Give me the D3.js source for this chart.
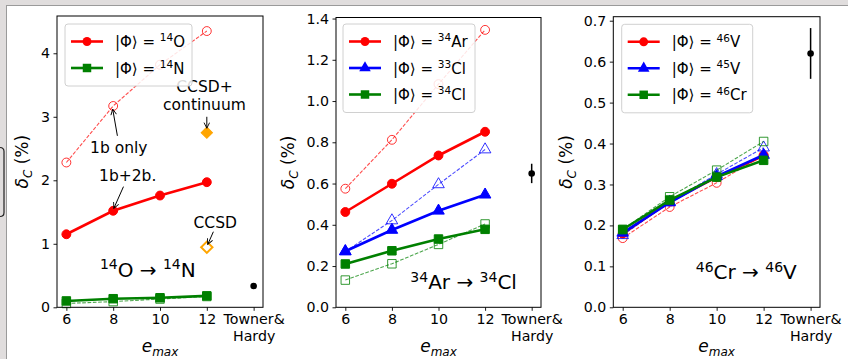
<!DOCTYPE html>
<html><head><meta charset="utf-8">
<script src="https://cdnjs.cloudflare.com/ajax/libs/d3/7.8.5/d3.min.js"></script>
<style>html,body{margin:0;padding:0;background:#fff;}svg{display:block;font-family:"DejaVu Sans",sans-serif;}</style>
</head><body><div id="chart"></div>
<script>
// ---------------- DATA ----------------
const emaxLabels = ["6", "8", "10", "12"];
const thLabelLines = ["Towner&", "Hardy"];

// Panel 1: 14O -> 14N
const p1_O14_full = [1.15, 1.52, 1.76, 1.97];
const p1_O14_1b   = [2.28, 3.17, 3.82, 4.35];
const p1_N14_full = [0.10, 0.135, 0.15, 0.18];
const p1_N14_1b   = [0.06, 0.09, 0.13, 0.17];
const p1_ccsdContinuum = 2.75;
const p1_ccsd = 0.945;
const p1_TownerHardy = [0.335, 0.02];
const p1_yTicks = [0, 1, 2, 3, 4];

// Panel 2: 34Ar -> 34Cl
const p2_Ar34_full = [0.462, 0.599, 0.736, 0.851];
const p2_Ar34_1b   = [0.575, 0.812, 1.082, 1.345];
const p2_Cl33_full = [0.272, 0.375, 0.468, 0.546];
const p2_Cl33_1b   = [0.27, 0.421, 0.596, 0.765];
const p2_Cl34_full = [0.21, 0.274, 0.331, 0.378];
const p2_Cl34_1b   = [0.132, 0.211, 0.305, 0.404];
const p2_TownerHardy = [0.649, 0.047];
const p2_yTicks = [0, 0.2, 0.4, 0.6, 0.8, 1.0, 1.2, 1.4];

// Panel 3: 46Cr -> 46V
const p3_V46_full  = [0.18, 0.258, 0.318, 0.37];
const p3_V46_1b    = [0.169, 0.245, 0.304, 0.372];
const p3_V45_full  = [0.182, 0.256, 0.32, 0.372];
const p3_V45_1b    = [0.176, 0.258, 0.325, 0.39];
const p3_Cr46_full = [0.19, 0.262, 0.318, 0.359];
const p3_Cr46_1b   = [0.19, 0.27, 0.335, 0.405];
const p3_TownerHardy = [0.62, 0.062];
const p3_yTicks = [0, 0.1, 0.2, 0.3, 0.4, 0.5, 0.6, 0.7];

// ---------------- DRAW ----------------
const W = 848, H = 359;
const FONT = '"DejaVu Sans", sans-serif';
const TICKFS = 14.2;
const svg = d3.select("#chart").append("svg").attr("width", W).attr("height", H);

svg.append("rect").attr("width", W).attr("height", H).attr("fill", "#e0dddd");
svg.append("rect").attr("x", 6.5).attr("y", 5.5).attr("width", W).attr("height", H).attr("fill", "#fff").attr("stroke", "#9a9a9a");
svg.append("path").attr("d", "M-4,147.5 L0,147.5 Q4,147.5 4,151.5 L4,212.5 Q4,216.5 0,216.5 L-4,216.5")
  .attr("fill", "none").attr("stroke", "#222").attr("stroke-width", 1.2);

const defs = svg.append("defs");
defs.append("marker").attr("id", "arrowhead").attr("viewBox", "0 0 10 10")
  .attr("refX", 9).attr("refY", 5).attr("markerWidth", 7).attr("markerHeight", 7)
  .attr("markerUnits", "userSpaceOnUse").attr("orient", "auto")
  .append("path").attr("d", "M1,1 L9,5 L1,9").attr("fill", "none").attr("stroke", "#000").attr("stroke-width", 1.3);

const symbolOf = {circle: d3.symbolCircle, square: d3.symbolSquare, triangle: d3.symbolTriangle};
const symSize = {circle: 62, square: 72, triangle: 58};

function superText(sel, parts, baseSize) {
  let raised = false;
  parts.forEach(([t, sup]) => {
    const ts = sel.append("tspan").text(t);
    if (sup && !raised) { ts.attr("dy", -baseSize * 0.38).attr("font-size", baseSize * 0.7); raised = true; }
    else if (!sup && raised) { ts.attr("dy", baseSize * 0.38); raised = false; }
    else if (sup) ts.attr("font-size", baseSize * 0.7);
  });
}

function drawPanel(cfg) {
  const g = svg.append("g");
  const x = d3.scaleLinear().domain([-0.2, 4.2]).range([cfg.left, cfg.right]);
  const y = d3.scaleLinear().domain([0, cfg.yMax]).range([cfg.bottom, cfg.top]);

  const ya = d3.axisLeft(y).tickValues(cfg.yTicks).tickFormat(cfg.yFmt).tickSize(3.5).tickPadding(3.5);
  const yg = g.append("g").attr("transform", `translate(${cfg.left},0)`).call(ya);
  const xa = d3.axisBottom(x).tickValues([0, 1, 2, 3, 4])
    .tickFormat(i => i < 4 ? emaxLabels[i] : "").tickSize(3.5).tickPadding(3.5);
  const xg = g.append("g").attr("transform", `translate(0,${cfg.bottom})`).call(xa);
  [yg, xg].forEach(a => {
    a.select(".domain").remove();
    a.selectAll("line").attr("stroke", "#000").attr("stroke-width", 0.9);
    a.selectAll("text").attr("font-family", FONT).attr("font-size", TICKFS).attr("fill", "#000");
  });
  // two-line "Towner& / Hardy" tick label
  const thTick = xg.selectAll(".tick").filter(d => d === 4);
  thTick.select("text").remove();
  thLabelLines.forEach((t, k) => thTick.append("text").attr("x", 0).attr("y", 7 + k * 16.5).attr("dy", "0.71em")
    .attr("text-anchor", "middle").attr("font-family", FONT).attr("font-size", TICKFS).attr("fill", "#000").text(t));

  const yl = g.append("text").attr("transform", `translate(${cfg.ylabelX},${(cfg.top + cfg.bottom) / 2}) rotate(-90)`)
    .attr("text-anchor", "middle").attr("font-size", 17).attr("font-family", FONT);
  yl.append("tspan").attr("font-style", "italic").text("δ");
  yl.append("tspan").attr("font-style", "italic").attr("font-size", 12).attr("dy", 4).text("C");
  yl.append("tspan").attr("dy", -4).text(" (%)");
  const xl = g.append("text").attr("x", (cfg.left + cfg.right) / 2).attr("y", 352)
    .attr("text-anchor", "middle").attr("font-size", 17).attr("font-family", FONT).attr("font-style", "italic");
  xl.append("tspan").text("e");
  xl.append("tspan").attr("font-size", 12).attr("dy", 4).text("max");

  cfg.series.forEach(s => {
    const line = d3.line().x((d, i) => x(i)).y(d => y(d));
    g.append("path").datum(s.dashed).attr("d", line).attr("fill", "none")
      .attr("stroke", s.color).attr("stroke-width", 1.1).attr("stroke-dasharray", "3.7,1.6").attr("opacity", 0.7);
    g.selectAll(null).data(s.dashed).join("path")
      .attr("d", d3.symbol(symbolOf[s.marker], symSize[s.marker]))
      .attr("transform", (d, i) => `translate(${x(i)},${y(d)})`)
      .attr("fill", "none").attr("stroke", s.color).attr("stroke-width", 1).attr("opacity", 0.8);
    g.append("path").datum(s.solid).attr("d", line).attr("fill", "none")
      .attr("stroke", s.color).attr("stroke-width", 2.6);
    g.selectAll(null).data(s.solid).join("path")
      .attr("d", d3.symbol(symbolOf[s.marker], symSize[s.marker]))
      .attr("transform", (d, i) => `translate(${x(i)},${y(d)})`)
      .attr("fill", s.color).attr("stroke", s.color).attr("stroke-width", 1);
  });

  if (cfg.extra) cfg.extra(g, x, y);

  const [thv, the] = cfg.th;
  g.append("line").attr("x1", x(4)).attr("x2", x(4)).attr("y1", y(thv - the)).attr("y2", y(thv + the))
    .attr("stroke", "#000").attr("stroke-width", 1.5);
  g.append("circle").attr("cx", x(4)).attr("cy", y(thv)).attr("r", 3.3).attr("fill", "#000");

  const tt = g.append("text").attr("x", x(cfg.titlePos[0])).attr("y", y(cfg.titlePos[1]))
    .attr("text-anchor", "middle").attr("font-size", 20).attr("font-family", FONT);
  superText(tt, cfg.title, 20);

  g.append("rect").attr("x", cfg.left).attr("y", cfg.top).attr("width", cfg.right - cfg.left)
    .attr("height", cfg.bottom - cfg.top).attr("fill", "none").attr("stroke", "#000").attr("stroke-width", 1);

  const n = cfg.series.length;
  const lg = g.append("g").attr("transform", `translate(${cfg.legend[0]},${cfg.legend[1]})`);
  lg.append("rect").attr("width", cfg.legendW).attr("height", 9 + n * 26.5).attr("rx", 3)
    .attr("fill", "#fff").attr("fill-opacity", 0.85).attr("stroke", "#d0d0d0");
  cfg.series.forEach((s, k) => {
    const cy = 17.5 + k * 26.5;
    lg.append("line").attr("x1", 6).attr("x2", 38).attr("y1", cy).attr("y2", cy)
      .attr("stroke", s.color).attr("stroke-width", 2.6);
    lg.append("path").attr("d", d3.symbol(symbolOf[s.marker], symSize[s.marker]))
      .attr("transform", `translate(22,${cy})`).attr("fill", s.color);
    const t = lg.append("text").attr("x", 50).attr("y", cy + 5.5).attr("font-size", 15).attr("font-family", FONT);
    superText(t, [["|Φ⟩ = ", false], [s.mass, true], [s.elem, false]], 15);
  });
}

drawPanel({
  left: 57, right: 263, top: 16, bottom: 307.3, yMax: 4.587, yTicks: p1_yTicks, yFmt: d3.format("d"),
  ylabelX: 28, th: p1_TownerHardy, legend: [65, 24], legendW: 127,
  title: [["14", true], ["O → ", false], ["14", true], ["N", false]], titlePos: [1.74, 0.48],
  series: [
    {color: "#ff0000", marker: "circle", solid: p1_O14_full, dashed: p1_O14_1b, mass: "14", elem: "O"},
    {color: "#008000", marker: "square", solid: p1_N14_full, dashed: p1_N14_1b, mass: "14", elem: "N"}
  ],
  extra: (g, x, y) => {
    g.append("path").attr("d", d3.symbol(d3.symbolSquare, 64)).attr("transform", `translate(${x(3)},${y(p1_ccsdContinuum)}) rotate(45)`)
      .attr("fill", "#ffa500").attr("stroke", "#ffa500");
    g.append("path").attr("d", d3.symbol(d3.symbolSquare, 64)).attr("transform", `translate(${x(3)},${y(p1_ccsd)}) rotate(45)`)
      .attr("fill", "none").attr("stroke", "#ffa500").attr("stroke-width", 2);
    const ann = [
      {lines: ["CCSD+", "continuum"], tx: 2.95, ty: 3.47, from: [3.0, 3.0], to: [3.0, 2.82]},
      {lines: ["1b only"], tx: 1.12, ty: 2.52, from: [1.09, 2.70], to: [0.99, 3.12]},
      {lines: ["1b+2b."], tx: 1.31, ty: 2.07, from: [1.22, 1.90], to: [1.015, 1.56]},
      {lines: ["CCSD"], tx: 3.18, ty: 1.33, from: [3.14, 1.19], to: [3.02, 0.99]}
    ];
    ann.forEach(a => {
      a.lines.forEach((l, k) => {
        g.append("text").attr("x", x(a.tx)).attr("y", y(a.ty) + 5.5 + k * 18).attr("text-anchor", "middle")
          .attr("font-size", 15.5).attr("font-family", FONT).text(l);
      });
      g.append("line").attr("x1", x(a.from[0])).attr("y1", y(a.from[1])).attr("x2", x(a.to[0])).attr("y2", y(a.to[1]))
        .attr("stroke", "#000").attr("stroke-width", 1).attr("marker-end", "url(#arrowhead)");
    });
  }
});

drawPanel({
  left: 336, right: 541, top: 17.5, bottom: 307.3, yMax: 1.405, yTicks: p2_yTicks, yFmt: d3.format(".1f"),
  ylabelX: 294, th: p2_TownerHardy, legend: [343, 24], legendW: 132,
  title: [["34", true], ["Ar → ", false], ["34", true], ["Cl", false]], titlePos: [2.54, 0.087],
  series: [
    {color: "#ff0000", marker: "circle", solid: p2_Ar34_full, dashed: p2_Ar34_1b, mass: "34", elem: "Ar"},
    {color: "#0000ff", marker: "triangle", solid: p2_Cl33_full, dashed: p2_Cl33_1b, mass: "33", elem: "Cl"},
    {color: "#008000", marker: "square", solid: p2_Cl34_full, dashed: p2_Cl34_1b, mass: "34", elem: "Cl"}
  ]
});

drawPanel({
  left: 613.3, right: 820, top: 16.7, bottom: 307.3, yMax: 0.7098, yTicks: p3_yTicks, yFmt: d3.format(".1f"),
  ylabelX: 572, th: p3_TownerHardy, legend: [621.7, 24.3], legendW: 131,
  title: [["46", true], ["Cr → ", false], ["46", true], ["V", false]], titlePos: [2.63, 0.068],
  series: [
    {color: "#ff0000", marker: "circle", solid: p3_V46_full, dashed: p3_V46_1b, mass: "46", elem: "V"},
    {color: "#0000ff", marker: "triangle", solid: p3_V45_full, dashed: p3_V45_1b, mass: "45", elem: "V"},
    {color: "#008000", marker: "square", solid: p3_Cr46_full, dashed: p3_Cr46_1b, mass: "46", elem: "Cr"}
  ]
});
</script></body></html>
